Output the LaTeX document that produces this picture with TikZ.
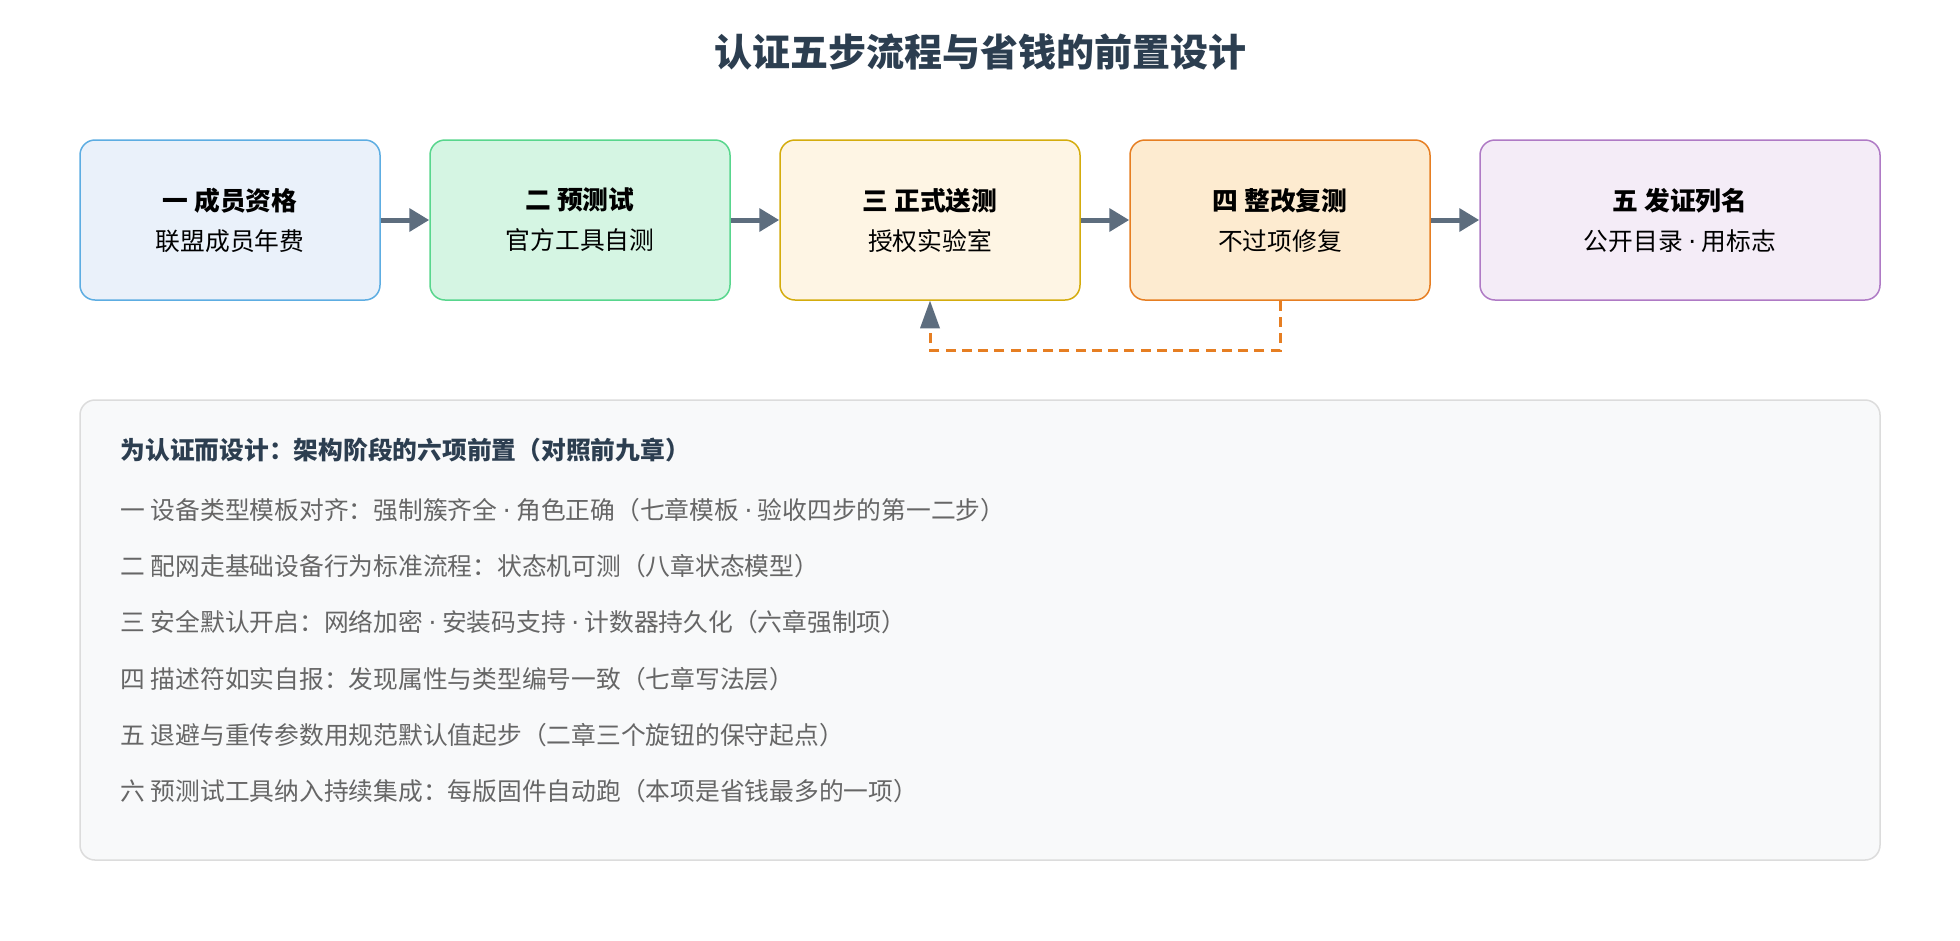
\documentclass[tikz,border=0pt]{standalone}
\usepackage{fontspec}
\setmainfont{Noto Sans CJK SC}
\newfontfamily\dotf{DejaVu Sans}
\newcommand{\md}{{\dotf ·}}
\usetikzlibrary{arrows.meta}
\definecolor{tt}{HTML}{2C3E50}
\definecolor{ag}{HTML}{5D6D7E}
\definecolor{og}{HTML}{E67E22}
\definecolor{tx}{HTML}{666666}
\tikzset{
 stepbox/.style={draw,rounded corners=6pt,line width=0.6pt,minimum width=120pt,minimum height=64pt,inner sep=0pt,align=center},
 bigbox/.style={stepbox,minimum width=160pt},
 flow/.style={ag,line width=2pt,-{Triangle[length=8pt,width=9pt]}},
 back/.style={og,line width=1.2pt,dash pattern=on 4pt off 2.5pt},
 item/.style={anchor=west,text=tx,font=\fontsize{9.9pt}{11pt}\selectfont,inner sep=0pt}
}
\newcommand{\stp}[2]{{\fontsize{10.3pt}{12pt}\selectfont\bfseries #1}\\[4pt]{\fontsize{9.9pt}{11pt}\selectfont #2}}
\begin{document}
\begin{tikzpicture}[x=0.5pt,y=-0.5pt]
\useasboundingbox (0,0) rectangle (1568,752);
\fill[white] (0,0) rectangle (1568,752);
\node[text=tt,font=\fontsize{15.2pt}{18pt}\selectfont\bfseries] (title) at (784,42) {认证五步流程与省钱的前置设计};
\node[stepbox,fill={rgb,255:red,234;green,241;blue,250},draw={rgb,255:red,93;green,173;blue,226}] (s1) at (184,176) {\stp{一 成员资格}{联盟成员年费}};
\node[stepbox,fill={rgb,255:red,213;green,245;blue,227},draw={rgb,255:red,88;green,214;blue,141}] (s2) at (464,176) {\stp{二 预测试}{官方工具自测}};
\node[stepbox,fill={rgb,255:red,254;green,245;blue,228},draw={rgb,255:red,212;green,172;blue,13}] (s3) at (744,176) {\stp{三 正式送测}{授权实验室}};
\node[stepbox,fill={rgb,255:red,253;green,235;blue,208},draw={rgb,255:red,230;green,126;blue,34}] (s4) at (1024,176) {\stp{四 整改复测}{不过项修复}};
\node[bigbox,fill={rgb,255:red,244;green,236;blue,247},draw={rgb,255:red,175;green,122;blue,197}] (s5) at (1344,176) {\stp{五 发证列名}{公开目录 \md{} 用标志}};
\draw[flow] (s1) -- (s2);
\draw[flow] (s2) -- (s3);
\draw[flow] (s3) -- (s4);
\draw[flow] (s4) -- (s5);
\coordinate (c1) at (1024,280);
\coordinate (c2) at (744,280);
\coordinate (c3) at (744,262);
\draw[back] (s4.south) -- (c1) -- (c2) -- (c3);
\fill[ag] (s3.south) -- ++(-8,22) -- ++(16,0) -- cycle;
\node[draw={rgb,255:red,220;green,220;blue,220},fill={rgb,255:red,248;green,249;blue,250},rounded corners=6pt,line width=0.6pt,minimum width=720pt,minimum height=184pt] (panel) at (784,504) {};
\node[anchor=west,text=tt,font=\fontsize{9.9pt}{11pt}\selectfont\bfseries,inner sep=0pt] (h) at (96,360) {为认证而设计：架构阶段的六项前置（对照前九章）};
\node[item] (i1) at (96,408) {一 设备类型模板对齐：强制簇齐全 \md{} 角色正确（七章模板 \md{} 验收四步的第一二步）};
\node[item] (i2) at (96,453) {二 配网走基础设备行为标准流程：状态机可测（八章状态模型）};
\node[item] (i3) at (96,498) {三 安全默认开启：网络加密 \md{} 安装码支持 \md{} 计数器持久化（六章强制项）};
\node[item] (i4) at (96,543) {四 描述符如实自报：发现属性与类型编号一致（七章写法层）};
\node[item] (i5) at (96,588) {五 退避与重传参数用规范默认值起步（二章三个旋钮的保守起点）};
\node[item] (i6) at (96,633) {六 预测试工具纳入持续集成：每版固件自动跑（本项是省钱最多的一项）};
\end{tikzpicture}
\end{document}
